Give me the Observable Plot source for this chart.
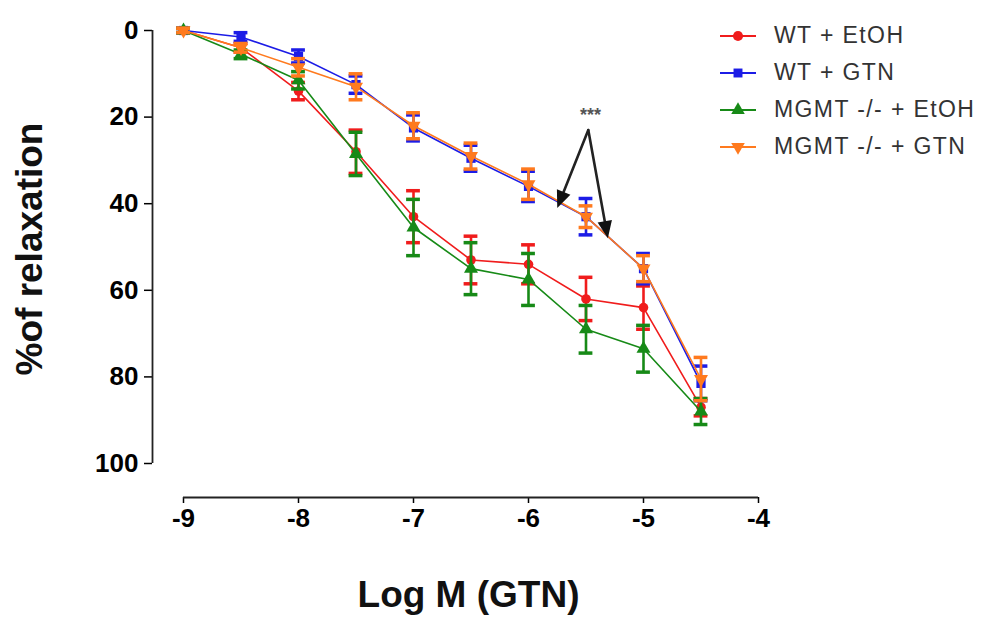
<!DOCTYPE html>
<html>
<head>
<meta charset="utf-8">
<script src="https://cdn.jsdelivr.net/npm/d3@7"></script>
<script src="https://cdn.jsdelivr.net/npm/@observablehq/plot@0.6"></script>
<style>
  html, body { margin: 0; padding: 0; background: #fff; }
  #wrap { position: relative; width: 983px; height: 618px; font-family: "Liberation Sans", Arial, sans-serif; }
  #legend { position: absolute; left: 718px; top: 17px; }
  .row { display: flex; align-items: center; height: 37px; }
  .row span { font-size: 23px; color: #333; margin-left: 16px; letter-spacing: 1.4px; }
</style>
</head>
<body>
<div id="wrap"><div id="legend"></div></div>
<script>
// ---- data ----
const logM = [-9, -8.5, -8, -7.5, -7, -6.5, -6, -5.5, -5, -4.5];
const seriesNames = ["WT + EtOH", "WT + GTN", "MGMT -/- + EtOH", "MGMT -/- + GTN"];
const seriesColors = ["#f01c1c", "#1c1ce6", "#178a17", "#ff7a1e"];
const seriesSymbols = ["circle", "square", "triangle", "triangleDown"];

const wtEtoh      = [0, 4.0, 14.0, 28.0, 43.0, 53.0, 54.0, 62.0, 64.0, 87.0];
const wtEtohSem   = [0.5, 1.0, 2.0, 5.0, 6.0, 5.5, 4.5, 5.0, 5.0, 2.0];
const wtGtn       = [0, 1.5, 6.0, 12.5, 22.5, 29.5, 36.0, 43.0, 55.0, 81.5];
const wtGtnSem    = [0.5, 1.0, 1.5, 2.0, 3.0, 3.0, 3.5, 4.2, 3.5, 4.0];
const mgmtEtoh    = [0, 5.5, 11.5, 28.5, 45.5, 55.0, 57.5, 69.0, 73.5, 88.0];
const mgmtEtohSem = [0.5, 1.0, 2.0, 5.0, 6.5, 6.0, 6.0, 5.5, 5.4, 3.0];
const mgmtGtn     = [0, 4.0, 8.5, 13.0, 22.0, 29.0, 35.5, 43.0, 55.0, 80.5];
const mgmtGtnSem  = [0.5, 1.0, 2.0, 3.0, 3.0, 3.0, 3.5, 2.5, 3.0, 5.0];

const xTicks = [-9, -8, -7, -6, -5, -4];
const yTicks = [0, 20, 40, 60, 80, 100];
const xLabel = "Log M (GTN)";
const yLabel = "%of relaxation";

const starText = ["***"];
const starPos = [{x: -5.46, y: 19.5}];
const arrows = [
  {x1: -5.48, y1: 23, x2: -5.75, y2: 41},
  {x1: -5.48, y1: 23, x2: -5.31, y2: 48}
];

// ---- build table ----
const means = [wtEtoh, wtGtn, mgmtEtoh, mgmtGtn];
const sems = [wtEtohSem, wtGtnSem, mgmtEtohSem, mgmtGtnSem];
const rows = [];
seriesNames.forEach((name, s) => {
  logM.forEach((x, i) => rows.push({series: name, s, x, y: means[s][i], sem: sems[s][i]}));
});

const triangleDown = {
  draw(context, size) {
    const y = -Math.sqrt(size / (3 * Math.sqrt(3)));
    context.moveTo(0, -y * 2);
    context.lineTo(-Math.sqrt(3) * y, y);
    context.lineTo(Math.sqrt(3) * y, y);
    context.closePath();
  }
};
// arrowhead: tip at origin pointing up (-y), body below it
const arrowHead = {
  draw(context, size) {
    const L = Math.sqrt(size) * 1.5, W = L * 0.42;
    context.moveTo(0, 0);
    context.lineTo(-W, L);
    context.lineTo(W, L);
    context.closePath();
  }
};
function sym(name) { return name === "triangleDown" ? triangleDown : name; }

const capHalf = 0.06;
function dataMarks() {
  const marks = [];
  seriesNames.forEach((name, s) => {
    const d = rows.filter(r => r.s === s);
    const c = seriesColors[s];
    marks.push(
      Plot.line(d, {x: "x", y: "y", stroke: c, strokeWidth: 1.6}),
      Plot.ruleX(d, {x: "x", y1: r => r.y - r.sem, y2: r => r.y + r.sem, stroke: c, strokeWidth: 2.6}),
      Plot.ruleY(d, {y: r => r.y - r.sem, x1: r => r.x - capHalf, x2: r => r.x + capHalf, stroke: c, strokeWidth: 3.5}),
      Plot.ruleY(d, {y: r => r.y + r.sem, x1: r => r.x - capHalf, x2: r => r.x + capHalf, stroke: c, strokeWidth: 3.5}),
      Plot.dot(d, {x: "x", y: "y", fill: c, stroke: "none", symbol: () => sym(seriesSymbols[s]), r: seriesSymbols[s] === "circle" ? 4.8 : 5.2})
    );
  });
  return marks;
}

function makeChart(angles) {
  const extra = angles ? [
    Plot.dot(arrows, {x: "x2", y: "y2", symbol: () => arrowHead, r: 6.5, fill: "#111", stroke: "none", rotate: (d, i) => angles[i]})
  ] : [];
  return Plot.plot({
    width: 983,
    height: 618,
    marginLeft: 152,
    marginRight: 225,
    marginTop: 30,
    marginBottom: 121,
    style: {fontFamily: "'Liberation Sans', Arial, sans-serif", background: "#fff", color: "#000"},
    symbol: {type: "identity"},
    x: {domain: [d3.min(xTicks), d3.max(xTicks)], insetLeft: 31},
    y: {domain: [d3.min(yTicks), d3.max(yTicks)], reverse: true, insetBottom: 34},
    marks: [
      Plot.axisY({ticks: yTicks, tickSize: 8, tickPadding: 6, fontSize: 26, fontWeight: "bold", label: null, strokeWidth: 1.5, tickFormat: d => String(d)}),
      Plot.axisX({ticks: xTicks, tickSize: 6, tickPadding: 5, fontSize: 26, fontWeight: "bold", label: null, strokeWidth: 1.5, tickFormat: d => String(d)}),
      Plot.ruleX([d3.min(xTicks)], {y1: d3.min(yTicks), y2: d3.max(yTicks), dx: -31, stroke: "#222", strokeWidth: 1.8}),
      Plot.ruleY([d3.max(yTicks)], {x1: d3.min(xTicks), x2: d3.max(xTicks), dy: 34, stroke: "#222", strokeWidth: 1.8}),
      Plot.text([yLabel], {frameAnchor: "left", text: d => d, rotate: -90, textAnchor: "middle", lineAnchor: "middle", dx: -122, dy: -15, fontSize: 37, fontWeight: "bold", fill: "#111"}),
      Plot.text([xLabel], {frameAnchor: "bottom", text: d => d, textAnchor: "middle", lineAnchor: "middle", dx: 13, dy: 98, fontSize: 37, fontWeight: "bold", fill: "#111"}),
      ...dataMarks(),
      Plot.arrow(arrows, {x1: "x1", y1: "y1", x2: "x2", y2: "y2", stroke: "#222", strokeWidth: 2.6, headLength: 0, insetEnd: 8}),
      ...extra,
      Plot.text(starPos, {x: "x", y: "y", text: (d, i) => starText[i], fontSize: 18, fontWeight: "bold", fill: "#555"})
    ]
  });
}

// first pass to get the scales, then compute arrowhead angles in pixel space
const probe = makeChart(null);
const sx = probe.scale("x"), sy = probe.scale("y");
const angles = arrows.map(a => {
  const dx = sx.apply(a.x2) - sx.apply(a.x1);
  const dy = sy.apply(a.y2) - sy.apply(a.y1);
  return Math.atan2(dx, -dy) * 180 / Math.PI;
});
const chart = makeChart(angles);
document.getElementById("wrap").prepend(chart);
chart.style.position = "absolute";
chart.style.left = "0";
chart.style.top = "0";

// ---- legend ----
const legend = document.getElementById("legend");
seriesNames.forEach((name, s) => {
  const row = document.createElement("div");
  row.className = "row";
  const svg = d3.create("svg").attr("width", 40).attr("height", 20);
  svg.append("line").attr("x1", 2).attr("x2", 38).attr("y1", 10).attr("y2", 10).attr("stroke", seriesColors[s]).attr("stroke-width", 2);
  const symType = seriesSymbols[s] === "circle" ? d3.symbolCircle : seriesSymbols[s] === "square" ? d3.symbolSquare : seriesSymbols[s] === "triangle" ? d3.symbolTriangle : triangleDown;
  svg.append("path").attr("d", d3.symbol(symType, 80)()).attr("transform", "translate(20,10)").attr("fill", seriesColors[s]);
  row.appendChild(svg.node());
  const sp = document.createElement("span");
  sp.textContent = name;
  row.appendChild(sp);
  legend.appendChild(row);
});
</script>
</body>
</html>
